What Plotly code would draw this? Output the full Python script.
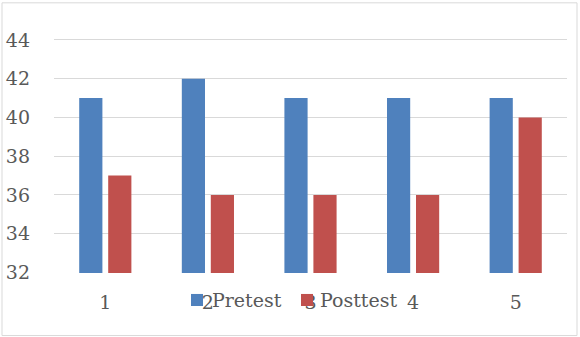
import plotly.graph_objects as go

categories = ["1", "2", "3", "4", "5"]
pretest = [41, 42, 41, 41, 41]
posttest = [37, 36, 36, 36, 40]
y_ticks = [32, 34, 36, 38, 40, 42, 44]
series_names = ["Pretest", "Posttest"]
series_colors = ["#4F81BD", "#C0504D"]

font_family = "DejaVu Serif"
text_color = "#595959"
grid_color = "#D9D9D9"
fs = 19

fig = go.Figure()
for name, vals, col in zip(series_names, [pretest, posttest], series_colors):
    fig.add_trace(go.Bar(x=categories, y=vals, name=name, marker_color=col,
                         marker_line_width=0))

W, H = 580, 337
y_lo, y_hi = 31.97, 44.15
px_per_unit = 232 / 12.0
b = 65 - (32 - y_lo) * px_per_unit          # keep 32 at pixel 272
ph = (y_hi - y_lo) * px_per_unit
l, r = 54, 13
t = H - b - ph
pw = W - l - r

def px(x):
    return (x - l) / pw

def py(y):
    return (H - b - y) / ph

shapes = [dict(type="rect", xref="paper", yref="paper",
               x0=px(2), x1=px(577), y0=py(335), y1=py(3),
               line=dict(color=grid_color, width=1), layer="below")]
annotations = []
# manual legend (square marker hugging its label, as in the reference)
leg_marker_x = [191, 301]
leg_text_x = [210, 318]
leg_y = 299.5
for name, col, mx, tx in zip(series_names, series_colors, leg_marker_x, leg_text_x):
    shapes.append(dict(type="rect", xref="paper", yref="paper",
                       x0=px(mx), x1=px(mx + 12), y0=py(leg_y + 6), y1=py(leg_y - 6),
                       fillcolor=col, line=dict(width=0), layer="above"))
    annotations.append(dict(text=name, xref="paper", yref="paper", x=px(tx), y=py(leg_y),
                            xanchor="left", yanchor="middle", showarrow=False,
                            font=dict(family=font_family, size=fs, color=text_color)))

fig.update_layout(
    width=W, height=H,
    margin=dict(l=l, r=r, t=t, b=b, pad=0),
    paper_bgcolor="white", plot_bgcolor="white",
    barmode="group", bargap=0.435, bargroupgap=0.2,
    font=dict(family=font_family, size=fs, color=text_color),
    showlegend=False,
    xaxis=dict(showgrid=False, showline=False, ticks="", zeroline=False, automargin=False,
               ticklabelstandoff=16, tickfont=dict(size=fs, color=text_color)),
    yaxis=dict(range=[y_lo, y_hi], tickvals=y_ticks, showgrid=True, gridcolor=grid_color,
               gridwidth=1, zeroline=False, showline=False, ticks="", automargin=False,
               ticklabelstandoff=23, tickfont=dict(size=fs, color=text_color)),
    shapes=shapes,
    annotations=annotations,
)

fig.write_html("out.html")
